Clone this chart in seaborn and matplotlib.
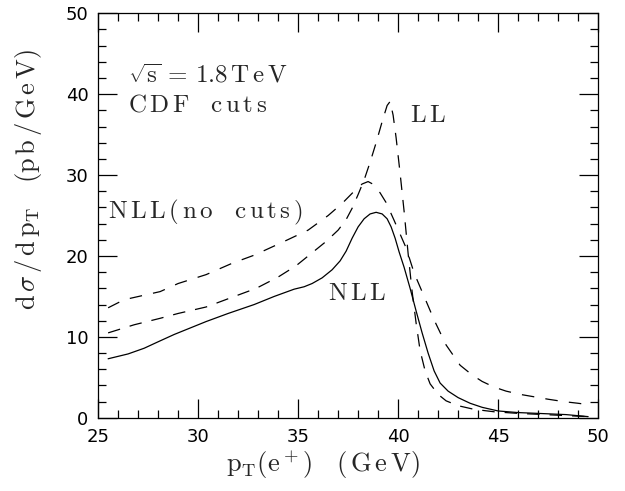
import numpy as np
import matplotlib
matplotlib.use("Agg")
import matplotlib.pyplot as plt
import seaborn as sns
import pandas as pd

# --- data ---
nll_x = [25.5, 26.5, 27.3, 28.0, 28.8, 29.6, 30.4, 31.5, 32.8, 33.8, 34.8, 35.3,
         35.7, 36.2, 36.7, 37.1, 37.4, 37.7, 38.0, 38.3, 38.6, 38.9, 39.2, 39.45,
         39.65, 39.85, 40.05, 40.3, 40.6, 40.9, 41.2, 41.5, 41.8, 42.1, 42.5, 43.0,
         43.6, 44.2, 45.0, 46.0, 47.0, 48.4, 49.5]
nll_y = [7.3, 7.9, 8.6, 9.4, 10.3, 11.1, 11.9, 12.9, 14.0, 15.0, 15.9, 16.2,
         16.6, 17.3, 18.3, 19.4, 20.6, 22.2, 23.6, 24.6, 25.2, 25.4, 25.2, 24.6,
         23.6, 22.2, 20.5, 18.6, 16.0, 13.2, 10.5, 8.0, 5.8, 4.3, 3.3, 2.5,
         1.8, 1.3, 0.85, 0.65, 0.55, 0.4, 0.15]

ll_x = [25.5, 26.8, 28.1, 29.0, 30.4, 31.7, 32.9, 34.0, 34.9, 35.7, 36.4, 37.0,
        37.4, 37.7, 38.0, 38.3, 38.6, 38.9, 39.2, 39.45, 39.6, 39.75, 39.9, 40.1,
        40.3, 40.5, 40.7, 40.9, 41.1, 41.35, 41.6, 42.0, 42.4, 43.0, 43.8, 44.8,
        46.0, 47.5, 49.5]
ll_y = [10.5, 11.5, 12.3, 12.9, 13.7, 14.9, 16.0, 17.4, 18.8, 20.4, 21.8, 23.2,
        24.5, 25.9, 27.6, 29.4, 31.6, 34.0, 36.6, 38.6, 39.1, 37.4, 34.6, 30.2,
        25.5, 20.3, 15.6, 11.7, 8.3, 5.8, 4.2, 2.9, 2.1, 1.5, 1.05, 0.75,
        0.55, 0.38, 0.15]

nocut_x = [25.5, 26.3, 27.2, 28.1, 29.0, 30.4, 31.7, 32.8, 34.3, 35.5, 36.5, 37.2,
           37.8, 38.2, 38.5, 38.8, 39.1, 39.4, 39.8, 40.1, 40.4, 40.8, 41.3, 41.8,
           42.4, 43.1, 43.7, 44.2, 44.8, 45.4, 46.1, 46.8, 47.5, 48.3, 49.0, 49.6]
nocut_y = [13.6, 14.6, 15.1, 15.6, 16.6, 17.7, 19.1, 20.1, 21.8, 23.2, 25.0, 26.5,
           28.0, 28.9, 29.2, 28.8, 27.8, 26.6, 24.4, 22.7, 21.0, 17.9, 15.0, 12.1,
           9.0, 6.5, 5.3, 4.5, 3.8, 3.3, 2.9, 2.6, 2.3, 2.0, 1.8, 1.6]

curves = {
    "NLL": (nll_x, nll_y, "-"),
    "LL": (ll_x, ll_y, (0, (10, 8))),
    "NLL(no cuts)": (nocut_x, nocut_y, (0, (10, 9))),
}


def tracked(s, gap=r"\,"):
    # old-style wide letter spacing, as mathtext roman
    out = []
    for ch in s:
        out.append(r"\ \ " if ch == " " else ch)
    return r"$\mathrm{" + gap.join(out) + "}$"


sns.set_theme(style="ticks")
plt.rcParams["font.family"] = ["DejaVu Serif"]
plt.rcParams["mathtext.fontset"] = "cm"

fig = plt.figure(figsize=(6.25, 4.91), dpi=100)
ax = fig.add_axes([0.157, 0.149, 0.8, 0.824])

for name, (xs, ys, ls) in curves.items():
    df = pd.DataFrame({"pt": xs, "dsig": ys})
    sns.lineplot(data=df, x="pt", y="dsig", ax=ax, color="black", lw=0.9,
                 linestyle=ls, sort=False, estimator=None)

ax.set_xlim(25, 50)
ax.set_ylim(0, 50)
ax.set_xticks(np.arange(25, 51, 5))
ax.set_yticks(np.arange(0, 51, 10))
ax.set_xticks(np.arange(25, 51, 1), minor=True)
ax.set_yticks(np.arange(0, 51, 2), minor=True)
ax.tick_params(which="both", direction="in", top=True, right=True, width=0.9,
               colors="black", labelsize=13, pad=7)
ax.tick_params(which="major", length=14)
ax.tick_params(which="minor", length=5.5)
for lab in ax.get_xticklabels() + ax.get_yticklabels():
    lab.set_family("DejaVu Sans")
for sp in ax.spines.values():
    sp.set_linewidth(0.9)
    sp.set_color("black")

ax.set_xlabel(r"$\mathrm{p_T(e^+)\ \ \ (\,G\,e\,V)}$", fontsize=19)
ax.set_ylabel(r"$\mathrm{d\,\sigma\,/\,d\,p_T\ \ \ (p\,b\,/\,G\,e\,V)}$", fontsize=19)
ax.xaxis.set_label_coords(0.45, -0.075)
ax.yaxis.set_label_coords(-0.108, 0.588)

ax.text(26.5, 41.4, r"$\mathrm{\sqrt{s}\,=\,1.8\,T\,e\,V}$", fontsize=18)
ax.text(26.5, 37.8, tracked("CDF cuts"), fontsize=18)
ax.text(25.5, 24.7, tracked("NLL(no cuts)"), fontsize=18)
ax.text(40.6, 36.5, tracked("LL", r"\/"), fontsize=18)
ax.text(36.5, 14.6, tracked("NLL", r"\/"), fontsize=18)

fig.savefig("out.png", dpi=100)
